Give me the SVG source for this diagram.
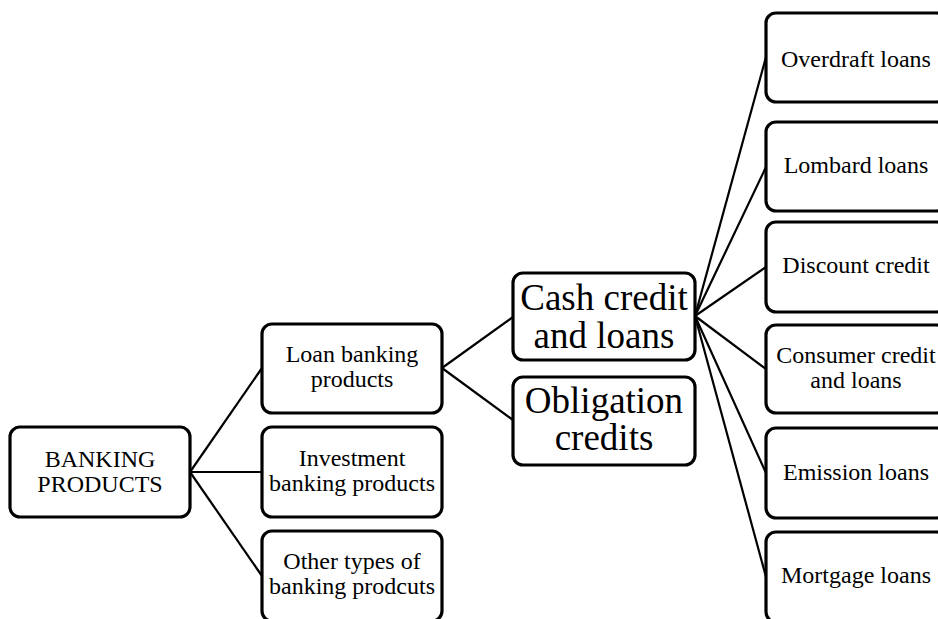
<svg xmlns="http://www.w3.org/2000/svg" width="938" height="619" viewBox="0 0 938 619">
<style>
.box{fill:#fff;stroke:#000;stroke-width:3.2}
.c{stroke:#000;stroke-width:2.2;fill:none}
</style>
<rect width="938" height="619" fill="#fff"/>
<g id="connectors">
<line class="c" x1="190" y1="472" x2="262" y2="368"/>
<line class="c" x1="190" y1="472" x2="262" y2="472"/>
<line class="c" x1="190" y1="472" x2="262" y2="576"/>
<line class="c" x1="442" y1="368" x2="513" y2="317"/>
<line class="c" x1="442" y1="368" x2="513" y2="420"/>
<line class="c" x1="695" y1="316" x2="766" y2="57"/>
<line class="c" x1="695" y1="316" x2="766" y2="167"/>
<line class="c" x1="695" y1="316" x2="766" y2="267"/>
<line class="c" x1="695" y1="316" x2="766" y2="369"/>
<line class="c" x1="695" y1="316" x2="766" y2="473"/>
<line class="c" x1="695" y1="316" x2="766" y2="577"/>
</g>
<g id="banking-products">
<rect class="box" x="10" y="427" width="180" height="90" rx="10"/>
<text x="100" y="467" font-family="Liberation Serif" font-size="24" text-anchor="middle">BANKING</text>
<text x="100" y="492" font-family="Liberation Serif" font-size="24" text-anchor="middle">PRODUCTS</text>
</g>
<g id="loan-banking-products">
<rect class="box" x="262" y="324" width="180" height="89" rx="10"/>
<text x="352" y="362" font-family="Liberation Serif" font-size="24" text-anchor="middle">Loan banking</text>
<text x="352" y="387" font-family="Liberation Serif" font-size="24" text-anchor="middle">products</text>
</g>
<g id="investment-banking-products">
<rect class="box" x="262" y="427" width="180" height="90" rx="10"/>
<text x="352" y="466" font-family="Liberation Serif" font-size="24" text-anchor="middle">Investment</text>
<text x="352" y="491" font-family="Liberation Serif" font-size="24" text-anchor="middle">banking products</text>
</g>
<g id="other-types">
<rect class="box" x="262" y="531" width="180" height="90" rx="10"/>
<text x="352" y="569" font-family="Liberation Serif" font-size="24" text-anchor="middle">Other types of</text>
<text x="352" y="594" font-family="Liberation Serif" font-size="24" text-anchor="middle">banking prodcuts</text>
</g>
<g id="cash-credit">
<rect class="box" x="513" y="273" width="182" height="87" rx="10"/>
<text x="604" y="310" font-family="Liberation Serif" font-size="37" text-anchor="middle">Cash credit</text>
<text x="604" y="348" font-family="Liberation Serif" font-size="37" text-anchor="middle">and loans</text>
</g>
<g id="obligation-credits">
<rect class="box" x="513" y="377" width="182" height="88" rx="10"/>
<text x="604" y="413" font-family="Liberation Serif" font-size="37" text-anchor="middle">Obligation</text>
<text x="604" y="450" font-family="Liberation Serif" font-size="37" text-anchor="middle">credits</text>
</g>
<g id="overdraft-loans">
<rect class="box" x="766" y="13" width="181" height="89" rx="10"/>
<text x="856" y="67" font-family="Liberation Serif" font-size="24" text-anchor="middle">Overdraft loans</text>
</g>
<g id="lombard-loans">
<rect class="box" x="766" y="122" width="181" height="89" rx="10"/>
<text x="856" y="173" font-family="Liberation Serif" font-size="24" text-anchor="middle">Lombard loans</text>
</g>
<g id="discount-credit">
<rect class="box" x="766" y="222" width="181" height="90" rx="10"/>
<text x="856" y="273" font-family="Liberation Serif" font-size="24" text-anchor="middle">Discount credit</text>
</g>
<g id="consumer-credit">
<rect class="box" x="766" y="325" width="181" height="88" rx="10"/>
<text x="856" y="363" font-family="Liberation Serif" font-size="24" text-anchor="middle">Consumer credit</text>
<text x="856" y="388" font-family="Liberation Serif" font-size="24" text-anchor="middle">and loans</text>
</g>
<g id="emission-loans">
<rect class="box" x="766" y="428" width="181" height="90" rx="10"/>
<text x="856" y="480" font-family="Liberation Serif" font-size="24" text-anchor="middle">Emission loans</text>
</g>
<g id="mortgage-loans">
<rect class="box" x="766" y="532" width="181" height="90" rx="10"/>
<text x="856" y="583" font-family="Liberation Serif" font-size="24" text-anchor="middle">Mortgage loans</text>
</g>
</svg>
